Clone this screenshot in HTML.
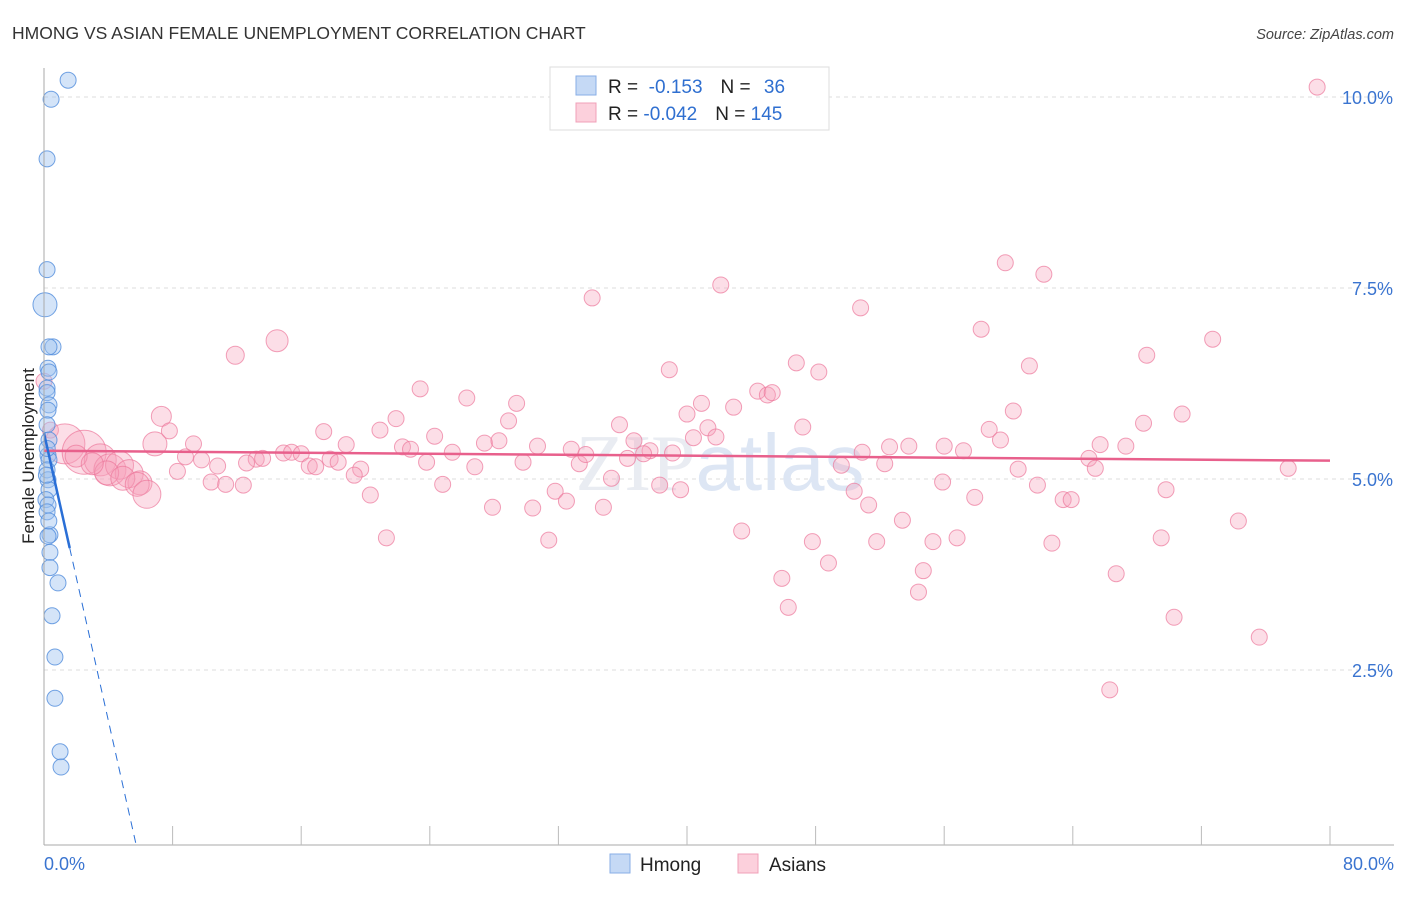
<!DOCTYPE html>
<html><head><meta charset="utf-8"><style>
body{margin:0;background:#fff;font-family:"Liberation Sans",sans-serif}
</style></head><body>
<svg width="1406" height="892" xmlns="http://www.w3.org/2000/svg" font-family="Liberation Sans, sans-serif">
<text x="12" y="39" font-size="17.5" fill="#333">HMONG VS ASIAN FEMALE UNEMPLOYMENT CORRELATION CHART</text>
<text x="1394" y="39" font-size="14.5" fill="#444" text-anchor="end" font-style="italic">Source: ZipAtlas.com</text>
<g id="grid"></g>
<text x="720" y="490" font-size="80" text-anchor="middle" fill="#e9ecf2" font-family="Liberation Serif, serif">ZIP<tspan fill="#dde6f4" font-family="Liberation Sans, sans-serif">atlas</tspan></text>
<g id="pink"></g>
<g id="blue"></g>
<g id="trend"></g>
<g id="axes"></g>
<text transform="translate(34,456) rotate(-90)" font-size="17" fill="#222" text-anchor="middle">Female Unemployment</text>
<g>
<rect x="550" y="67" width="279" height="63" fill="#fff" stroke="#ddd"/>
<rect x="576" y="76" width="20" height="19" fill="#c5d9f5" stroke="#88aee6"/>
<rect x="576" y="103" width="20" height="19" fill="#fcd0dc" stroke="#f0a0b8"/>
<text x="608" y="93" font-size="19" fill="#222">R = <tspan fill="#2f6fd0">&#160;-0.153</tspan><tspan dx="18">N = </tspan><tspan fill="#2f6fd0" dx="8">36</tspan></text>
<text x="608" y="120" font-size="19" fill="#222">R = <tspan fill="#2f6fd0">-0.042</tspan><tspan dx="18">N = </tspan><tspan fill="#2f6fd0">145</tspan></text>
</g>
<g>
<rect x="610" y="854" width="20" height="19" fill="#c5d9f5" stroke="#88aee6"/>
<text x="640" y="871" font-size="19" fill="#222">Hmong</text>
<rect x="738" y="854" width="20" height="19" fill="#fcd0dc" stroke="#f0a0b8"/>
<text x="769" y="871" font-size="19" fill="#222">Asians</text>
</g>
</svg>
<script>
const yTicks=[2.5,5.0,7.5,10.0];
const xTickLabels=["0.0%","80.0%"];
const hmongX=[1.5,0.44,0.19,0.19,0.06,0.56,0.31,0.25,0.31,0.19,0.19,0.31,0.25,0.19,0.31,0.25,0.31,0.19,0.25,0.31,0.12,0.25,0.19,0.37,0.25,0.37,0.37,0.87,0.5,0.68,0.68,1.0,1.06,0.2,0.3,0.15];
const hmongY=[10.22,9.97,9.19,7.74,7.28,6.73,6.73,6.45,6.40,6.19,6.13,5.97,5.90,5.71,5.51,5.31,5.25,5.12,4.99,4.86,4.73,4.66,4.57,4.27,4.25,4.04,3.84,3.64,3.21,2.67,2.13,1.43,1.23,5.40,4.45,5.05];
const asianX=[79.2,59.8,62.2,34.1,42.1,50.8,58.3,72.7,14.5,11.9,68.6,46.8,61.3,38.9,48.2,23.4,44.4,45.0,45.3,26.3,29.4,40.9,42.9,7.3,60.3,70.8,21.9,40.0,28.9,68.4,35.8,7.8,17.4,20.9,47.2,41.3,58.8,24.3,41.8,40.4,36.7,59.5,6.9,9.3,18.8,27.4,28.3,30.7,22.3,22.8,52.6,53.8,56.0,57.2,65.7,67.3,32.8,37.7,39.1,50.9,25.4,8.8,14.9,15.4,16.0,13.2,13.6,17.8,18.3,9.8,12.6,16.5,16.9,19.7,23.8,26.8,29.8,33.3,33.7,36.3,37.3,49.6,52.3,65.0,65.4,77.4,10.8,8.3,19.3,35.3,60.6,10.4,11.3,12.4,24.8,38.3,39.6,55.9,61.8,31.8,50.4,69.8,57.9,63.4,63.9,20.3,32.5,51.3,27.9,30.4,34.8,53.4,74.3,43.4,21.3,31.4,47.8,51.8,55.3,56.8,62.7,69.5,48.8,54.7,45.9,66.7,54.4,46.3,70.3,75.6,66.3,0.0,0.4,1.3,2.5,3.5,4.1,4.7,5.3,5.97,3.9,4.9,5.8,2.0,3.0,6.4];
const asianY=[10.13,7.83,7.68,7.37,7.54,7.24,6.96,6.83,6.81,6.62,6.62,6.52,6.48,6.43,6.40,6.18,6.15,6.10,6.13,6.06,5.99,5.99,5.94,5.82,5.89,5.85,5.79,5.85,5.76,5.73,5.71,5.63,5.62,5.64,5.68,5.67,5.65,5.56,5.55,5.54,5.50,5.51,5.46,5.46,5.45,5.47,5.50,5.43,5.42,5.39,5.42,5.43,5.43,5.37,5.45,5.43,5.39,5.37,5.34,5.35,5.35,5.29,5.34,5.35,5.33,5.26,5.27,5.26,5.22,5.25,5.21,5.17,5.16,5.13,5.22,5.16,5.22,5.20,5.32,5.27,5.33,5.18,5.20,5.27,5.14,5.14,5.17,5.10,5.05,5.01,5.13,4.96,4.93,4.92,4.93,4.92,4.86,4.96,4.92,4.84,4.84,4.86,4.76,4.73,4.73,4.79,4.71,4.66,4.63,4.62,4.63,4.46,4.45,4.32,4.23,4.20,4.18,4.18,4.18,4.23,4.16,4.23,3.90,3.80,3.70,3.76,3.52,3.32,3.19,2.93,2.24,6.28,5.64,5.46,5.35,5.25,5.12,5.18,5.07,4.95,5.08,5.01,4.93,5.30,5.20,4.80];
const asianR=[8,8,8,8,8,8,8,8,11,9,8,8,8,8,8,8,8,8,8,8,8,8,8,10,8,8,8,8,8,8,8,8,8,8,8,8,8,8,8,8,8,8,12,8,8,8,8,8,8,8,8,8,8,8,8,8,8,8,8,8,8,8,8,8,8,8,8,8,8,8,8,8,8,8,8,8,8,8,8,8,8,8,8,8,8,8,8,8,8,8,8,8,8,8,8,8,8,8,8,8,8,8,8,8,8,8,8,8,8,8,8,8,8,8,8,8,8,8,8,8,8,8,8,8,8,8,8,8,8,8,8,8,8,20,22,16,16,14,14,12,12,12,12,11,11,14,12,10];
const asianTrend=[5.37,5.24];
const hmongTrend=[5.6,-0.94];
const NS="http://www.w3.org/2000/svg";
const X0=44,X1=1330,XMAX=80,YB=861,YS=76.4;
const sx=v=>X0+v/XMAX*(X1-X0), sy=v=>YB-v*YS;
function mk(tag,at,parent){const e=document.createElementNS(NS,tag);for(const k in at)e.setAttribute(k,at[k]);parent.appendChild(e);return e;}
const grid=document.getElementById('grid'),axes=document.getElementById('axes');
yTicks.forEach(t=>{
 const l=mk('line',{x1:X0,x2:1394,y1:sy(t),y2:sy(t),stroke:'#ddd','stroke-dasharray':'4,4'},grid);
 
 
 const tx=mk('text',{x:1393,y:sy(t)+7,'font-size':18,fill:'#3a74d0','text-anchor':'end'},axes);
 tx.textContent=t.toFixed(1)+'%';
 
 
});
mk('line',{x1:X0,x2:X0,y1:68,y2:845,stroke:'#aaa'},axes);
mk('line',{x1:X0,x2:1394,y1:845,y2:845,stroke:'#aaa'},axes);
for(let i=1;i<=10;i++){const x=sx(i*8);const t=mk('line',{x1:x,x2:x,y1:826,y2:845,stroke:'#bbb'},axes);}
[[0,'start',44],[80,'end',1394]].forEach((d,i)=>{const t=mk('text',{x:d[2],y:870,'font-size':18,fill:'#3a74d0','text-anchor':d[1]},axes);t.textContent=xTickLabels[i];});
const pink=document.getElementById('pink');
asianX.forEach((v,i)=>{const c=mk('circle',{cx:sx(v),cy:sy(asianY[i]),r:asianR[i],fill:'rgba(246,160,185,0.35)',stroke:'rgba(236,120,155,0.7)','stroke-width':1},pink);
 
 });
const blue=document.getElementById('blue');
hmongX.forEach((v,i)=>{const c=mk('circle',{cx:sx(v),cy:sy(hmongY[i]),r:i==4?12:8,fill:'rgba(160,195,240,0.45)',stroke:'rgba(80,140,220,0.8)','stroke-width':1},blue);
 
 });
const tr=document.getElementById('trend');
const p=mk('line',{x1:sx(0),y1:sy(asianTrend[0]),x2:sx(80),y2:sy(asianTrend[1]),stroke:'#e8608c','stroke-width':2.5},tr);


const hy=x=>hmongTrend[0]+hmongTrend[1]*x;
const b=mk('line',{x1:sx(0),y1:sy(hy(0)),x2:sx(1.6),y2:sy(hy(1.6)),stroke:'#2a6fd6','stroke-width':2.5},tr);


const xe=(hmongTrend[0]-0.21)/-hmongTrend[1];
const bd=mk('line',{x1:sx(1.6),y1:sy(hy(1.6)),x2:sx(xe),y2:sy(hy(xe)),stroke:'#2a6fd6','stroke-width':1,'stroke-dasharray':'8,6'},tr);


</script>
</body></html>
